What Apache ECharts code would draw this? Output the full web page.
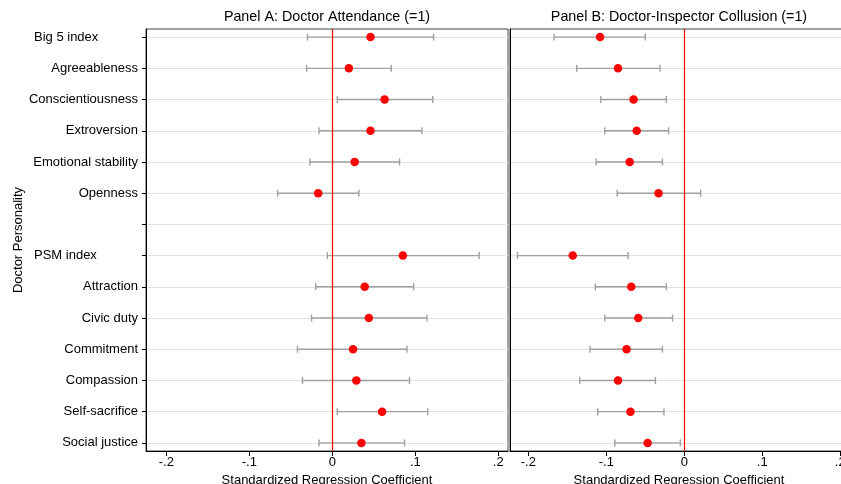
<!DOCTYPE html>
<html><head><meta charset="utf-8">
<script src="https://cdn.jsdelivr.net/npm/echarts@6/dist/echarts.min.js"></script>
<style>html,body{margin:0;padding:0;background:#fff}#c{width:841px;height:484px}</style>
</head><body><div id="c"></div>
<script>
const categories = ['Big 5 index','Agreeableness','Conscientiousness','Extroversion','Emotional stability','Openness','','PSM index','Attraction','Civic duty','Commitment','Compassion','Self-sacrifice','Social justice'];
// Panel A: Doctor Attendance
const coefA = [0.046, 0.020, 0.063, 0.046, 0.027, -0.017, null, 0.085, 0.039, 0.044, 0.025, 0.029, 0.060, 0.035];
const lowA  = [-0.030, -0.031, 0.006, -0.016, -0.027, -0.066, null, -0.006, -0.020, -0.025, -0.042, -0.036, 0.006, -0.016];
const highA = [0.122, 0.071, 0.121, 0.108, 0.081, 0.032, null, 0.177, 0.098, 0.114, 0.090, 0.093, 0.115, 0.087];
// Panel B: Doctor-Inspector Collusion
const coefB = [-0.108, -0.085, -0.065, -0.061, -0.070, -0.033, null, -0.143, -0.068, -0.059, -0.074, -0.085, -0.069, -0.047];
const lowB  = [-0.167, -0.138, -0.107, -0.102, -0.113, -0.086, null, -0.214, -0.114, -0.102, -0.121, -0.134, -0.111, -0.089];
const highB = [-0.050, -0.031, -0.023, -0.020, -0.028, 0.021, null, -0.072, -0.023, -0.015, -0.028, -0.037, -0.026, -0.005];
const xTicks = [-0.2, -0.1, 0, 0.1, 0.2];
const panelTitles = ['Panel A: Doctor Attendance (=1)', 'Panel B: Doctor-Inspector Collusion (=1)'];
const xName = 'Standardized Regression Coefficient';
const yName = 'Doctor Personality';

const rows = categories.map((c, i) => i);
const FONT = 'Liberation Sans, Arial, sans-serif';
const fmtX = v => {
  const r = Math.round(v * 10) / 10;
  if (r === 0) return '0';
  return (r < 0 ? '-' : '') + String(Math.abs(r)).replace(/^0/, '');
};
function pts(coef) { const d = []; coef.forEach((v, i) => { if (v !== null) d.push([v, i]); }); return d; }
function bars(lo, hi) { const d = []; lo.forEach((v, i) => { if (v !== null) d.push([v, hi[i], i]); }); return d; }

function renderBar(params, api) {
  const y = api.value(2);
  const p1 = api.coord([api.value(0), y]);
  const p2 = api.coord([api.value(1), y]);
  const h = 3.5;
  const st = { stroke: '#a0a0a0', lineWidth: 1.4 };
  return { type: 'group', children: [
    { type: 'line', shape: { x1: p1[0], y1: p1[1], x2: p2[0], y2: p2[1] }, style: st },
    { type: 'line', shape: { x1: p1[0], y1: p1[1] - h, x2: p1[0], y2: p1[1] + h }, style: st },
    { type: 'line', shape: { x1: p2[0], y1: p2[1] - h, x2: p2[0], y2: p2[1] + h }, style: st }
  ]};
}

function xAxis(idx, min, max) {
  return {
    type: 'value', gridIndex: idx, min: min, max: max,
    axisLine: { show: true, onZero: false, lineStyle: { color: '#000', width: 1 } },
    axisTick: { show: true, customValues: xTicks, length: 5, lineStyle: { color: '#000' } },
    axisLabel: { customValues: xTicks, formatter: fmtX, color: '#000', fontSize: 13, fontFamily: FONT, margin: 5 },
    splitLine: { show: false },
    name: xName, nameLocation: 'middle', nameGap: 20,
    nameTextStyle: { color: '#000', fontSize: 13, fontFamily: FONT }
  };
}
function yAxis(idx, withLabels) {
  const a = {
    type: 'value', gridIndex: idx, inverse: true, min: -0.26, max: 13.26,
    axisLine: { show: true, onZero: false, lineStyle: { color: '#000', width: 1 } },
    axisTick: { show: withLabels, customValues: rows, length: 4, lineStyle: { color: '#000' } },
    axisLabel: {
      show: withLabels, customValues: rows, color: '#000', fontSize: 13, fontFamily: FONT, margin: 8,
      formatter: v => {
        const t = categories[Math.round(v)] || '';
        if (t === 'Big 5 index' || t === 'PSM index') return '{l|' + t + '}';
        return t;
      },
      rich: { l: { width: 104, align: 'left', fontSize: 13, fontFamily: FONT, color: '#000' } }
    },
    splitLine: { show: true, lineStyle: { color: '#e2e2e2', width: 1 } }
  };
  if (withLabels) {
    a.name = yName; a.nameLocation = 'middle'; a.nameGap = 121;
    a.nameTextStyle = { color: '#000', fontSize: 13, fontFamily: FONT };
  }
  return a;
}
function zeroLine() {
  return { silent: true, symbol: 'none', label: { show: false },
    lineStyle: { color: '#ff0000', width: 1.2, type: 'solid' }, data: [{ xAxis: 0 }] };
}

const chart = echarts.init(document.getElementById('c'), null, { renderer: 'canvas' });
chart.setOption({
  animation: false,
  backgroundColor: '#fff',
  textStyle: { fontFamily: FONT },
  title: [
    { text: panelTitles[0], left: 327, top: 10, padding: 0, textAlign: 'center',
      textStyle: { fontSize: 14.3, fontWeight: 'normal', color: '#000', fontFamily: FONT } },
    { text: panelTitles[1], left: 679, top: 10, padding: 0, textAlign: 'center',
      textStyle: { fontSize: 14.3, fontWeight: 'normal', color: '#000', fontFamily: FONT } }
  ],
  grid: [
    { left: 146, top: 29, width: 362, height: 422, outerBoundsMode: 'none', containLabel: false, show: true, borderColor: '#444', borderWidth: 1, backgroundColor: 'transparent' },
    { left: 510, top: 29, width: 338, height: 422, outerBoundsMode: 'none', containLabel: false, show: true, borderColor: '#444', borderWidth: 1, backgroundColor: 'transparent' }
  ],
  xAxis: [xAxis(0, -0.2245, 0.2117), xAxis(1, -0.2235, 0.21)],
  yAxis: [yAxis(0, true), yAxis(1, false)],
  series: [
    { type: 'custom', xAxisIndex: 0, yAxisIndex: 0, renderItem: renderBar, data: bars(lowA, highA), encode: { x: [0, 1], y: 2 }, z: 2, silent: true },
    { type: 'scatter', xAxisIndex: 0, yAxisIndex: 0, data: pts(coefA), symbolSize: 8.5, itemStyle: { color: '#ff0000', opacity: 1 }, z: 4, markLine: zeroLine() },
    { type: 'custom', xAxisIndex: 1, yAxisIndex: 1, renderItem: renderBar, data: bars(lowB, highB), encode: { x: [0, 1], y: 2 }, z: 2, silent: true },
    { type: 'scatter', xAxisIndex: 1, yAxisIndex: 1, data: pts(coefB), symbolSize: 8.5, itemStyle: { color: '#ff0000', opacity: 1 }, z: 4, markLine: zeroLine() }
  ]
});
</script></body></html>
